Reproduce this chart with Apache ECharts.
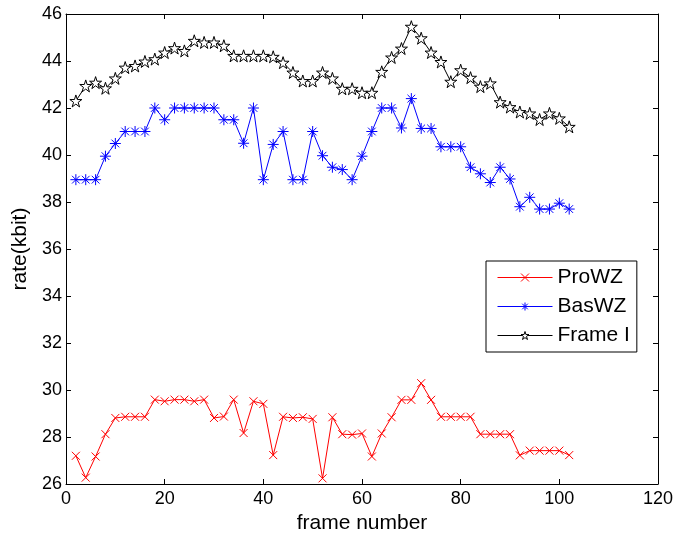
<!DOCTYPE html>
<html>
<head>
<meta charset="utf-8">
<script src="https://cdn.jsdelivr.net/npm/echarts@6/dist/echarts.min.js"></script>
<style>
html,body{margin:0;padding:0;background:#fff;}
#chart{width:675px;height:533px;}
</style>
</head>
<body>
<div id="chart"></div>
<script>
const frames = [2,4,6,8,10,12,14,16,18,20,22,24,26,28,30,32,34,36,38,40,42,44,46,48,50,52,54,56,58,60,62,64,66,68,70,72,74,76,78,80,82,84,86,88,90,92,94,96,98,100,102];
const proWZ = [27.2,26.27,27.17,28.12,28.81,28.86,28.86,28.86,29.59,29.52,29.59,29.59,29.52,29.59,28.81,28.87,29.59,28.17,29.52,29.41,27.23,28.86,28.81,28.84,28.77,26.24,28.84,28.12,28.1,28.15,27.17,28.15,28.84,29.58,29.58,30.29,29.58,28.86,28.86,28.86,28.86,28.12,28.12,28.12,28.12,27.22,27.42,27.42,27.42,27.42,27.23];
const basWZ = [38.95,38.95,38.95,39.95,40.49,41.0,41.0,41.0,42.0,41.5,42.0,42.0,42.0,42.0,42.0,41.5,41.5,40.5,42.0,38.95,40.45,41.0,38.95,38.95,41.0,39.97,39.48,39.38,38.95,39.95,41.0,42.0,42.0,41.15,42.4,41.13,41.13,40.35,40.35,40.35,39.48,39.2,38.83,39.48,38.98,37.8,38.2,37.7,37.7,37.95,37.7];
const frameI = [42.3,42.94,43.08,42.84,43.26,43.72,43.79,43.98,44.08,44.36,44.55,44.43,44.86,44.79,44.79,44.65,44.22,44.22,44.22,44.22,44.18,43.93,43.51,43.15,43.15,43.51,43.26,42.82,42.82,42.65,42.65,43.54,44.15,44.53,45.46,44.97,44.36,43.96,43.12,43.61,43.29,42.91,43.05,42.25,42.04,41.83,41.77,41.51,41.77,41.56,41.2];
const seriesNames = ['ProWZ','BasWZ','Frame I'];
const xTicks = {min:0, max:120, interval:20};
const yTicks = {min:26, max:46, interval:2};

const FONT = "'Liberation Sans', Arial, Helvetica, sans-serif";
const pairs = arr => frames.map((f,i)=>[f, arr[i]]);

const crossPath = 'path://M0,0 L10,10 M10,0 L0,10';
const asteriskPath = 'path://M5,0 L5,10 M0,5 L10,5 M1.5,1.5 L8.5,8.5 M8.5,1.5 L1.5,8.5';
const starPath = 'path://M50,0 L61.23,34.55 L97.55,34.55 L68.17,55.9 L79.39,90.45 L50,69.1 L20.61,90.45 L31.83,55.9 L2.45,34.55 L38.77,34.55 Z';

const tickCommon = {show:true, inside:true, length:5, lineStyle:{color:'#000', width:1}};
const axisLineCommon = {show:true, onZero:false, lineStyle:{color:'#000', width:1}};
const labelCommon = {color:'#000', fontSize:18, fontFamily:FONT};

const styles = [
  {line:{color:'#ff0000', width:1}, item:{color:'#ff0000', borderColor:'#ff0000', borderWidth:1}},
  {line:{color:'#0000ff', width:1}, item:{color:'#0000ff', borderColor:'#0000ff', borderWidth:1}},
  {line:{color:'#000000', width:1}, item:{color:'#ffffff', borderColor:'#000000', borderWidth:1}}
];

const chart = echarts.init(document.getElementById('chart'), null, {renderer:'canvas'});
chart.setOption({
  animation:false,
  backgroundColor:'#fff',
  grid:{left:66, right:17, top:14, bottom:49, containLabel:false, outerBoundsMode:'none'},
  xAxis:[
    {type:'value', min:xTicks.min, max:xTicks.max, interval:xTicks.interval, position:'bottom',
     name:'frame number', nameLocation:'middle', nameGap:26,
     nameTextStyle:{color:'#000', fontSize:21, fontFamily:FONT},
     axisLine:axisLineCommon, axisTick:tickCommon, axisLabel:Object.assign({margin:6}, labelCommon),
     splitLine:{show:false}},
    {type:'value', min:xTicks.min, max:xTicks.max, interval:xTicks.interval, position:'top',
     axisLine:axisLineCommon, axisTick:tickCommon, axisLabel:{show:false}, splitLine:{show:false}}
  ],
  yAxis:[
    {type:'value', min:yTicks.min, max:yTicks.max, interval:yTicks.interval, position:'left',
     name:'rate(kbit)', nameLocation:'middle', nameGap:31,
     nameTextStyle:{color:'#000', fontSize:21, fontFamily:FONT},
     axisLine:axisLineCommon, axisTick:tickCommon, axisLabel:Object.assign({margin:4}, labelCommon),
     splitLine:{show:false}},
    {type:'value', min:yTicks.min, max:yTicks.max, interval:yTicks.interval, position:'right',
     axisLine:axisLineCommon, axisTick:tickCommon, axisLabel:{show:false}, splitLine:{show:false}}
  ],
  legend:{
    orient:'vertical', left:486, top:261,
    padding:[6,7,6,11], itemGap:8, itemWidth:55, itemHeight:10,
    borderColor:'#000', borderWidth:1, backgroundColor:'#fff', borderRadius:0,
    textStyle:{color:'#000', fontSize:21, fontFamily:FONT},
    data:seriesNames.map((n,i)=>({name:n, itemStyle:styles[i].item, lineStyle:styles[i].line}))
  },
  series:[
    {name:seriesNames[0], type:'line', data:pairs(proWZ), symbol:crossPath, symbolSize:8,
     lineStyle:styles[0].line, itemStyle:styles[0].item},
    {name:seriesNames[1], type:'line', data:pairs(basWZ), symbol:asteriskPath, symbolSize:11,
     lineStyle:styles[1].line, itemStyle:styles[1].item},
    {name:seriesNames[2], type:'line', data:pairs(frameI), symbol:starPath, symbolSize:12,
     lineStyle:styles[2].line, itemStyle:styles[2].item}
  ]
});
</script>
</body>
</html>
